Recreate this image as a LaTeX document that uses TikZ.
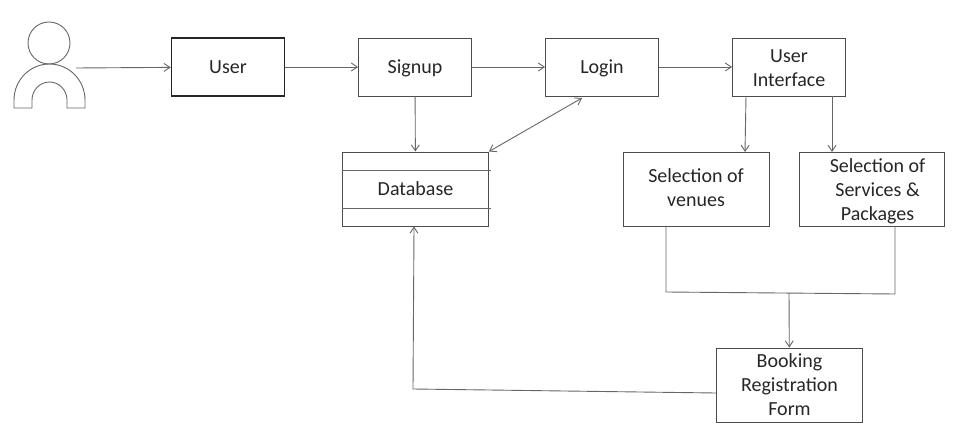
\documentclass[tikz,border=0pt]{standalone}
\usepackage{fontspec}
\setmainfont{Carlito}
\usetikzlibrary{positioning,arrows.meta}
\tikzset{
  flowbox/.style={draw=black!70,line width=0.9pt,align=center,font=\fontsize{20}{24}\selectfont,text=black!85,inner sep=0pt},
  rowbox/.style={flowbox,minimum width=113pt,minimum height=58pt},
  oneline/.style={text height=13pt,text depth=0pt},
  flowtip/.tip={Straight Barb[length=6pt,width=8pt]},
  flowline/.style={draw=black!60,line width=0.9pt,-flowtip},
  plainline/.style={draw=black!60,line width=0.9pt}
}
\begin{document}
\begin{tikzpicture}[x=1pt,y=-1pt]
\useasboundingbox (0,0) rectangle (960,443);
% actor
\node [circle,draw=black!60,line width=0.9pt,minimum size=42pt,inner sep=0pt] (head) at (49,43) {};
\draw [plainline] (14,108) -- (14,100) arc[start angle=180,end angle=360,x radius=35.5,y radius=36] -- (85,108) -- (67,108) -- (67,100) arc[start angle=360,end angle=180,x radius=17.5,y radius=18] -- (32,108) -- cycle;
\coordinate (actor) at (76,68);

\node [rowbox,oneline,line width=1.6pt,draw=black!85] (user) at (228,67) {User};
\node [rowbox,oneline] (signup) at (415,67) {Signup};
\node [rowbox,oneline] (login) at (602,67) {Login};
\node [rowbox] (ui) at (789,67) {\rule{0pt}{15.5pt}User\\Interface};

\node [flowbox,minimum width=146pt,minimum height=74pt] (db) at (415.5,189) {Database};
\draw [plainline] (db.west |- 0,170) -- ([xshift=2pt]db.east |- 0,170);
\draw [plainline] (db.west |- 0,208) -- ([xshift=2pt]db.east |- 0,208);

\node [flowbox,minimum width=146pt,minimum height=74pt] (venues) at (696,189) {Selection of\\venues\rule[-2pt]{0pt}{2pt}};
\node [flowbox,minimum width=145pt,minimum height=74pt] (services) at (871.5,189) {\rule{0pt}{17.5pt}\hspace*{12pt}Selection of\\\hspace*{12pt}Services \&\\\hspace*{12pt}Packages};
\node [flowbox,minimum width=146pt,minimum height=74pt] (booking) at (789.5,385) {Booking\\Registration\\Form};

\coordinate (join) at (789,293);
\coordinate (loginend) at (582,98);

\draw [flowline] (actor) -- (user);
\draw [flowline] (user) -- (signup);
\draw [flowline] (signup) -- (login);
\draw [flowline] (login) -- (ui);
\draw [flowline] (signup) -- (db);
\draw [flowline,flowtip-flowtip] (db.north east) -- (loginend);
\draw [flowline] (746,96) -- (745,152);
\draw [flowline] (832,96) -- (832,152);
\draw [plainline] (666,226) -- (666,292) -- (895,294) -- (895,227);
\draw [flowline] (join) -- (booking);
\draw [flowline] (booking.west |- 0,393) -- (413,389) -- (db.south -| 414,0);
\end{tikzpicture}
\end{document}
